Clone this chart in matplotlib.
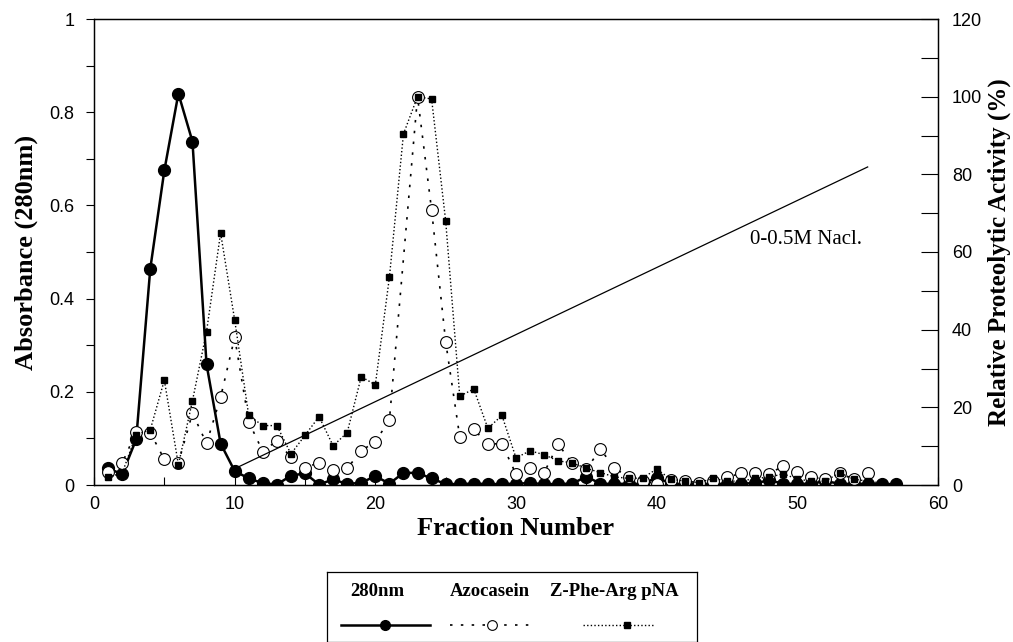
import matplotlib.pyplot as plt
from matplotlib.ticker import MultipleLocator
import numpy as np

fractions = list(range(1, 58))
abs_280 = [0.036, 0.023, 0.098, 0.464, 0.675, 0.84, 0.737, 0.259, 0.089, 0.030,
           0.014, 0.004, 0.001, 0.020, 0.025, 0.001, 0.012, 0.002, 0.005, 0.019,
           0.003, 0.026, 0.026, 0.014, 0.002, 0.002, 0.003, 0.002, 0.002, 0.003,
           0.004, 0.002, 0.002, 0.003, 0.018, 0.003, 0.002, 0.003, 0.002, 0.016,
           0.003, 0.002, 0.002, 0.003, 0.002, 0.003, 0.004, 0.010, 0.003, 0.002,
           0.003, 0.008, 0.003, 0.002, 0.003, 0.002, 0.002]

azo_frac = [1, 2, 3, 4, 5, 6, 7, 8, 9, 10, 11, 12, 13, 14, 15, 16, 17, 18, 19, 20,
            21, 23, 24, 25, 26, 27, 28, 29, 30, 31, 32, 33, 34, 35, 36, 37, 38, 39,
            40, 41, 42, 43, 44, 45, 46, 47, 48, 49, 50, 51, 52, 53, 54, 55]
azocasein = [3.4, 5.6, 13.7, 13.5, 6.6, 5.7, 18.5, 10.7, 22.6, 38.0, 16.3, 8.6,
             11.4, 7.1, 4.5, 5.7, 3.9, 4.3, 8.8, 11.2, 16.7, 100.0, 70.8, 36.9,
             12.4, 14.3, 10.6, 10.6, 2.8, 4.3, 3.2, 10.5, 5.6, 4.0, 9.3, 4.3, 2.1,
             1.0, 0.3, 1.3, 1.0, 0.6, 1.0, 2.0, 3.0, 3.0, 2.9, 4.9, 3.4, 2.0, 1.5,
             3.0, 1.5, 3.0]

zpa_frac = list(range(1, 57))
zphearg = [2.1, 3.0, 13.0, 14.2, 27.0, 5.2, 21.7, 39.5, 64.9, 42.5, 17.9, 15.3,
           15.3, 8.0, 12.8, 17.6, 10.1, 13.5, 27.9, 25.8, 53.5, 90.4, 100.0, 99.4,
           68.0, 22.9, 24.7, 14.6, 17.9, 7.0, 8.8, 7.8, 6.2, 5.7, 4.3, 3.2, 2.1,
           1.7, 1.8, 4.1, 1.5, 1.0, 0.6, 1.7, 1.0, 1.0, 1.7, 2.0, 2.9, 1.5, 1.0,
           1.0, 3.2, 1.5, 1.0, 0.5]

# NaCl gradient (drawn against the right axis)
grad_x = [10, 55]
grad_y = [4.2, 81.9]

serif = ['Liberation Serif', 'DejaVu Serif']
sans = ['Liberation Sans', 'DejaVu Sans']
plt.rcParams['font.family'] = sans

W, H = 1013, 642
fig = plt.figure(figsize=(W / 100, H / 100), dpi=100)
ax = fig.add_axes([94 / W, 1 - 485 / H, (938 - 94) / W, (485 - 19) / H])
ax2 = ax.twinx()

ax.plot(fractions, abs_280, color='black', lw=1.8, marker='o', ms=8.5,
        mfc='black', mec='black', zorder=5)
ax2.plot(azo_frac, azocasein, color='black', lw=1.2, ls=(0, (1.5, 5)),
         marker='o', ms=8.5, mfc='white', mec='black', mew=0.8)
ax2.plot(zpa_frac, zphearg, color='black', lw=1.0, ls=(0, (1, 1.6)),
         marker='s', ms=3.8, mfc='black', mec='black')
ax2.plot(grad_x, grad_y, color='black', lw=0.9)
ax2.text(46.6, 0.526 * 120, '0-0.5M Nacl.', family=serif, fontsize=15,
         va='center', ha='left')

ax.set_xlim(0, 60)
ax.set_ylim(0, 1)
ax2.set_ylim(0, 120)

ax.xaxis.set_major_locator(MultipleLocator(10))
ax.xaxis.set_minor_locator(MultipleLocator(5))
ax.yaxis.set_major_locator(MultipleLocator(0.2))
ax.yaxis.set_minor_locator(MultipleLocator(0.1))
ax2.yaxis.set_major_locator(MultipleLocator(20))
ax2.yaxis.set_minor_locator(MultipleLocator(10))
ax.set_yticks([0, 0.2, 0.4, 0.6, 0.8, 1.0], ['0', '0.2', '0.4', '0.6', '0.8', '1'])

ax.tick_params(axis='x', which='both', direction='in', length=6, width=0.8,
               labelsize=13, pad=8)
ax.tick_params(axis='y', which='both', direction='out', length=6, width=0.8,
               labelsize=13, pad=8)
ax2.tick_params(axis='y', which='both', direction='in', length=12, width=0.8,
                labelsize=13, pad=10)

for a in (ax, ax2):
    for s in a.spines.values():
        s.set_linewidth(0.9)

ax.set_xlabel('Fraction Number', family=serif, fontweight='bold', fontsize=19,
              labelpad=3)
ax.set_ylabel('Absorbance (280nm)', family=serif, fontweight='bold', fontsize=19,
              labelpad=8)
ax2.set_ylabel('Relative Proteolytic Activity (%)', family=serif,
               fontweight='bold', fontsize=18, labelpad=4)

# Legend box below the plot: text above, line sample below
lax = fig.add_axes([327 / W, 0.5 / H, (697 - 327) / W, (641 - 571) / H])
lax.set_xlim(327, 697)
lax.set_ylim(641, 571)
lax.set_xticks([])
lax.set_yticks([])
for s in lax.spines.values():
    s.set_linewidth(0.9)

lax.text(377, 591, '280nm', family=serif, fontweight='bold', fontsize=13.5,
         ha='center', va='center')
lax.text(490, 591, 'Azocasein', family=serif, fontweight='bold', fontsize=13.5,
         ha='center', va='center')
lax.text(614, 591, 'Z-Phe-Arg pNA', family=serif, fontweight='bold',
         fontsize=13.5, ha='center', va='center')

lax.plot([341, 430], [624, 624], color='black', lw=1.8)
lax.plot([385], [624], marker='o', ms=7, color='black')
lax.plot([450, 530], [624, 624], color='black', lw=1.2, ls=(0, (1.5, 5)))
lax.plot([492], [624], marker='o', ms=7, mfc='white', mec='black', mew=0.8)
lax.plot([583, 655], [624, 624], color='black', lw=1.0, ls=(0, (1, 1.6)))
lax.plot([627], [624], marker='s', ms=3.8, color='black')

fig.savefig('out.png', dpi=100)
